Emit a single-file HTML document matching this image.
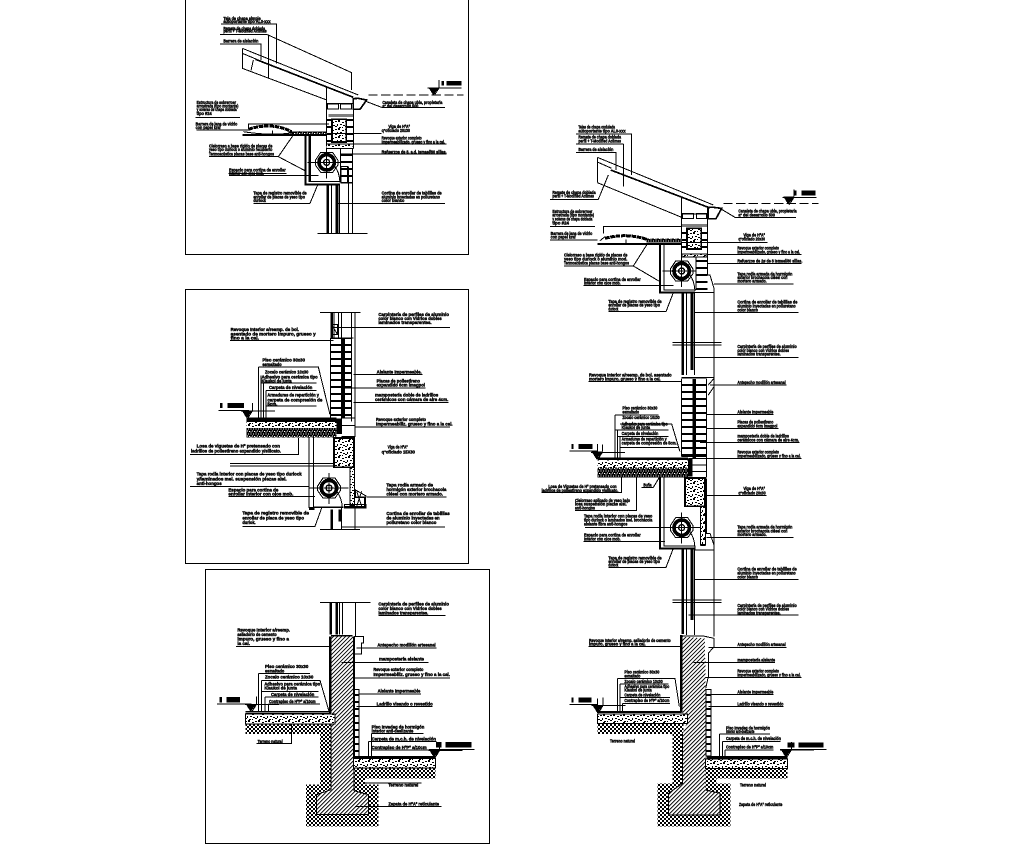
<!DOCTYPE html>
<html><head><meta charset="utf-8"><title>Detalles constructivos</title>
<style>
html,body{margin:0;padding:0;background:#fff}
svg{display:block}
line,path,polyline,polygon,rect,circle{shape-rendering:crispEdges}
text{font-family:"Liberation Sans",sans-serif;font-weight:bold;font-size:14px;fill:#000;stroke:#000;stroke-width:1.3}
.l{stroke:#000;stroke-width:3;fill:none}
.h{stroke:#000;stroke-width:8;fill:none}
.m{stroke:#000;stroke-width:5;fill:none}
.k{fill:#000;stroke:none}
</style></head><body>
<svg xmlns="http://www.w3.org/2000/svg" width="1009" height="852" viewBox="0 0 1009 852">
<defs>
<pattern id="hatch" width="8.5" height="8.5" patternUnits="userSpaceOnUse" patternTransform="rotate(-45)"><rect width="8.5" height="8.5" fill="#fff"/><rect width="8.5" height="3" fill="#000"/></pattern>
<pattern id="earth" width="12" height="12" patternUnits="userSpaceOnUse"><rect width="12" height="12" fill="#fff"/><rect x="0" y="0" width="6" height="6" fill="#000"/><rect x="6" y="6" width="6" height="6" fill="#000"/></pattern>
<pattern id="conc" width="30" height="24" patternUnits="userSpaceOnUse"><rect width="30" height="24" fill="#fff"/><rect x="0" y="3" width="6" height="3" fill="#000"/><rect x="9" y="0" width="6" height="6" fill="#000"/><rect x="21" y="6" width="6" height="3" fill="#000"/><rect x="6" y="12" width="3" height="6" fill="#000"/><rect x="15" y="12" width="6" height="3" fill="#000"/><rect x="24" y="15" width="6" height="3" fill="#000"/><rect x="0" y="18" width="6" height="3" fill="#000"/><rect x="12" y="21" width="6" height="3" fill="#000"/><rect x="21" y="21" width="3" height="3" fill="#000"/></pattern>
<pattern id="dense" width="15" height="15" patternUnits="userSpaceOnUse"><rect width="15" height="15" fill="#000"/><rect x="2" y="2" width="3" height="3" fill="#fff"/><rect x="9" y="1" width="3" height="3" fill="#fff"/><rect x="6" y="7" width="3" height="3" fill="#fff"/><rect x="12" y="9" width="3" height="3" fill="#fff"/><rect x="1" y="11" width="3" height="3" fill="#fff"/></pattern>
<pattern id="brick" width="12" height="21" patternUnits="userSpaceOnUse"><rect width="12" height="21" fill="#fff"/><rect width="12" height="6" fill="#000"/></pattern>
<g id="roller">
<polygon class="l" points="-34,-6 -18,-30 18,-30 34,-6 34,8 18,30 -18,30 -34,8"/>
<circle r="23" fill="none" stroke="#000" stroke-width="11"/>
<circle r="9" fill="none" stroke="#000" stroke-width="4"/>
<path class="l" d="M-58 0H58M0-45V48"/>
<path class="l" d="M24 12Q38 28 40 60"/>
</g>
<g id="level"><path class="k" d="M0 0H32L15 24Z"/><path class="l" d="M32 0V-22M-2 2H100M32 2L18 24"/></g>
</defs>
<rect width="1009" height="852" fill="#fff"/>

<!-- Frames -->
<g fill="none" stroke="#000" stroke-width="1" shape-rendering="crispEdges">
<path d="M185.5 0V254.5H468.5V0"/>
<rect x="185.5" y="289.5" width="283" height="274"/>
<rect x="205.5" y="569.5" width="284" height="274"/>
</g>

<!-- PANEL 1 -->
<g transform="translate(185,0) scale(.33333)">
<path class="l" d="M172 145L520 285M172 145V205M172 160L215 178M172 205L425 300M250 103V232M105 103H245L500 218V270M108 72H275V190M105 132H228V180M205 180L198 212"/>
<path class="m" d="M212 178L505 292"/>
<path class="l" d="M425 262V440M505 295V445M425 310H505M430 345H505M430 350H505"/>
<rect x="428" y="312" width="33" height="15" class="l" fill="#fff"/><rect x="467" y="312" width="33" height="15" class="l"/>
<rect x="426" y="350" width="78" height="82" fill="url(#brick)"/>
<rect x="441" y="358" width="43" height="68" fill="url(#conc)" stroke="#000" stroke-width="5"/>
<path class="m" d="M505 296V328H525L545 300L520 295Z"/>
<path class="l" d="M505 432H425M425 445H505"/><rect x="428" y="434" width="74" height="9" fill="url(#conc)"/>
<rect x="310" y="394" width="115" height="12" fill="url(#dense)"/>
<path stroke="#000" stroke-width="9" stroke-dasharray="14 2" fill="none" d="M190 388Q260 365 320 395"/>
<path class="m" d="M172 405H425"/><path class="l" d="M175 395Q265 410 345 395M262 392V405"/>
<path style="stroke-width:6" class="h" d="M362 408V553H465M375 408V545"/>
<path class="l" d="M372 408V545H465"/>
<use href="#roller" x="425" y="487"/>
<rect x="467" y="445" width="36" height="105" fill="url(#brick)"/>
<path class="l" d="M467 445V545"/><rect x="468" y="500" width="20" height="48" class="l" fill="#fff"/>
<path class="h" d="M428 550V700M456 550V700"/><path class="l" d="M440 550V700M464 550V700M490 500V700M503 445V700M397 700H547"/>
<use href="#level" x="730" y="262"/><rect x="770" y="243" width="7" height="14" class="k"/><rect x="785" y="243" width="44" height="14" class="k"/>
<path class="l" d="M550 285H835" stroke-dasharray="28 10"/>
<path class="l" d="M545 305L590 322H780M432 372H190V385M425 400H590M505 432H785M465 462H785M460 610H780M32 352H165M35 390H190M72 470H280L325 405M280 470L360 512M132 527H400M130 520H305M375 610H205M375 610L400 550"/>
<text x="115" y="60" textLength="112" lengthAdjust="spacingAndGlyphs">Teja de chapa simple</text>
<text x="115" y="69" textLength="142" lengthAdjust="spacingAndGlyphs">autoportante tipo AL0-xxx</text>
<text x="115" y="90" textLength="125" lengthAdjust="spacingAndGlyphs">Remate de chapa doblada</text>
<text x="115" y="98" textLength="130" lengthAdjust="spacingAndGlyphs">perfil + T-Modified Aclimas</text>
<text x="115" y="128" textLength="105" lengthAdjust="spacingAndGlyphs">Barrera de aislación</text>
<text x="592" y="312" textLength="180" lengthAdjust="spacingAndGlyphs">Canaleta de chapa ubla, propietaria</text>
<text x="592" y="323" textLength="108" lengthAdjust="spacingAndGlyphs">a° del desarrollo 500</text>
<text x="35" y="312" textLength="118" lengthAdjust="spacingAndGlyphs">Estructura de sobrerroer</text>
<text x="35" y="322" textLength="125" lengthAdjust="spacingAndGlyphs">arrostrada (tipo montante)</text>
<text x="35" y="333" textLength="120" lengthAdjust="spacingAndGlyphs">y soleras de chapa doblada</text>
<text x="35" y="345" textLength="45" lengthAdjust="spacingAndGlyphs">tipo #24</text>
<text x="32" y="376" textLength="125" lengthAdjust="spacingAndGlyphs">Barrera de lana de vidrio</text>
<text x="32" y="387" textLength="75" lengthAdjust="spacingAndGlyphs">con papel kraf</text>
<text x="610" y="384" textLength="65" lengthAdjust="spacingAndGlyphs">Viga de HºAº</text>
<text x="590" y="396" textLength="85" lengthAdjust="spacingAndGlyphs">q°oficiado 20x30</text>
<text x="590" y="419" textLength="120" lengthAdjust="spacingAndGlyphs">Revoque exterior completo</text>
<text x="590" y="430" textLength="190" lengthAdjust="spacingAndGlyphs">Impermeabilizado, grueso y fino a la cal.</text>
<text x="590" y="460" textLength="195" lengthAdjust="spacingAndGlyphs">Refuerzos de 8, a.d. Ismael/80 sillas.</text>
<text x="72" y="442" textLength="190" lengthAdjust="spacingAndGlyphs">Cielorraso a base rígido de placas de</text>
<text x="72" y="453" textLength="190" lengthAdjust="spacingAndGlyphs">yeso tipo durlock o aluminio recubierto</text>
<text x="72" y="466" textLength="195" lengthAdjust="spacingAndGlyphs">Termoacústica placas base anti-hongos</text>
<text x="132" y="514" textLength="170" lengthAdjust="spacingAndGlyphs">Espacio para cortina de enrollar</text>
<text x="132" y="525" textLength="105" lengthAdjust="spacingAndGlyphs">Interior con ojos mob.</text>
<text x="205" y="584" textLength="160" lengthAdjust="spacingAndGlyphs">Tapa de registro removible de</text>
<text x="205" y="595" textLength="155" lengthAdjust="spacingAndGlyphs">enrollar de placas de yeso tipo</text>
<text x="205" y="606" textLength="38" lengthAdjust="spacingAndGlyphs">durlock</text>
<text x="590" y="584" textLength="180" lengthAdjust="spacingAndGlyphs">Cortina de enrollar de tablillas de</text>
<text x="590" y="595" textLength="175" lengthAdjust="spacingAndGlyphs">aluminio inyectadas en poliuretano</text>
<text x="590" y="606" textLength="68" lengthAdjust="spacingAndGlyphs">color blanco</text>
</g>

<!-- PANEL 2 -->
<g transform="translate(185,288) scale(.33333)">
<path class="l" d="M405 73H527"/>
<path class="h" d="M440 73V150"/><path class="l" d="M447 73V150M460 73V150M470 73V150M500 73V400M510 73V400"/>
<rect x="440" y="110" width="18" height="30" class="l"/><path class="l" d="M440 110L458 140"/>
<rect x="438" y="152" width="60" height="232" fill="url(#brick)"/>
<path class="l" d="M437 150H505M437 150V388"/>
<rect x="468" y="152" width="12" height="240" class="k"/>
<path class="l" d="M470 390H510V445H470M470 412H510"/>
<rect x="185" y="388" width="270" height="14" class="k"/>
<rect x="185" y="402" width="270" height="18" fill="url(#conc)"/>
<rect x="185" y="420" width="270" height="28" fill="url(#dense)"/>
<rect x="455" y="392" width="16" height="46" class="k"/>
<rect x="447" y="450" width="60" height="88" fill="url(#conc)" stroke="#000" stroke-width="5"/>
<path class="l" d="M372 448V660M385 448V660M135 527H445M135 534H445"/>
<rect x="495" y="538" width="14" height="115" fill="url(#conc)" stroke="#000" stroke-width="3"/>
<use href="#roller" x="432" y="600"/>
<path style="stroke-width:9" class="h" d="M372 662H388"/><path class="m" d="M385 658H475"/>
<path class="h" d="M440 665V725M464 665V700"/><path class="l" d="M470 660V725M510 660V725M405 725H525"/>
<path class="m" d="M480 657H540V628H510V605"/><path class="l" d="M510 605L545 625M515 610L530 655M530 610L515 655"/>
<rect x="478" y="650" width="65" height="10" class="l"/>
<use href="#level" x="170" y="367"/><rect x="105" y="345" width="8" height="15" class="k"/><rect x="127" y="345" width="50" height="15" class="k"/>
<path class="l" d="M100 367H190V385M135 158H445M447 118H795M505 260H712M480 300H722M505 343H790M510 417H795M220 237H400L435 380M220 237V390M228 285H395M243 308H395M243 308V390M245 354H395M228 262V390M235 285V390M340 450V500H15M15 595H372M130 625H390M172 715H390L410 660M545 627H785M470 717H780"/>
<text x="580" y="84" textLength="212" lengthAdjust="spacingAndGlyphs">Carpintería de perfiles de aluminio</text>
<text x="580" y="96" textLength="190" lengthAdjust="spacingAndGlyphs">color blanco con Vidrios dobles</text>
<text x="580" y="108" textLength="160" lengthAdjust="spacingAndGlyphs">laminados transparentes.</text>
<text x="137" y="129" textLength="205" lengthAdjust="spacingAndGlyphs">Revoque Interior a/reemp. de bol.</text>
<text x="137" y="142" textLength="255" lengthAdjust="spacingAndGlyphs">asentado de mortero impuro, grueso y</text>
<text x="137" y="155" textLength="85" lengthAdjust="spacingAndGlyphs">fino a la cal.</text>
<text x="232" y="220" textLength="128" lengthAdjust="spacingAndGlyphs">Piso cerámico 30x30</text>
<text x="232" y="234" textLength="58" lengthAdjust="spacingAndGlyphs">esmaltado</text>
<text x="240" y="257" textLength="130" lengthAdjust="spacingAndGlyphs">Zocalo cerámico 10x30</text>
<text x="230" y="272" textLength="168" lengthAdjust="spacingAndGlyphs">Adhesivo para cerámica tipo</text>
<text x="230" y="284" textLength="90" lengthAdjust="spacingAndGlyphs">Klaukol de junta</text>
<text x="252" y="303" textLength="130" lengthAdjust="spacingAndGlyphs">Carpeta de nivelación</text>
<text x="247" y="326" textLength="155" lengthAdjust="spacingAndGlyphs">Armaduras de repartición y</text>
<text x="247" y="340" textLength="165" lengthAdjust="spacingAndGlyphs">carpeta de compresión de</text>
<text x="247" y="352" textLength="30" lengthAdjust="spacingAndGlyphs">5cm.</text>
<text x="575" y="256" textLength="135" lengthAdjust="spacingAndGlyphs">Aislante Impermeable.</text>
<text x="575" y="283" textLength="130" lengthAdjust="spacingAndGlyphs">Placas de poliestireno</text>
<text x="575" y="296" textLength="145" lengthAdjust="spacingAndGlyphs">expandido 6cm imagpol</text>
<text x="570" y="325" textLength="190" lengthAdjust="spacingAndGlyphs">mampostería doble de ladrillos</text>
<text x="570" y="339" textLength="220" lengthAdjust="spacingAndGlyphs">cerámicos con cámara de aire 4cm.</text>
<text x="573" y="399" textLength="150" lengthAdjust="spacingAndGlyphs">Revoque exterior completo</text>
<text x="573" y="413" textLength="230" lengthAdjust="spacingAndGlyphs">Impermeabiliz. grueso y fino a la cal.</text>
<text x="608" y="482" textLength="60" lengthAdjust="spacingAndGlyphs">Viga de HºAº</text>
<text x="590" y="497" textLength="100" lengthAdjust="spacingAndGlyphs">q°oficiado 15X30</text>
<text x="35" y="479" textLength="250" lengthAdjust="spacingAndGlyphs">Losa de viguetas de Hº pretensado con</text>
<text x="18" y="494" textLength="270" lengthAdjust="spacingAndGlyphs">ladrillos de poliestireno expandido y/silicato.</text>
<text x="35" y="563" textLength="315" lengthAdjust="spacingAndGlyphs">Tapa rodía interior con placas de yeso tipo durlock</text>
<text x="35" y="577" textLength="270" lengthAdjust="spacingAndGlyphs">y/laminados mel. suspensión piezas aisl.</text>
<text x="35" y="591" textLength="75" lengthAdjust="spacingAndGlyphs">anti-hongos</text>
<text x="130" y="611" textLength="150" lengthAdjust="spacingAndGlyphs">Espacio para cortina de</text>
<text x="130" y="623" textLength="195" lengthAdjust="spacingAndGlyphs">enrollar interior con ojos mob.</text>
<text x="172" y="680" textLength="200" lengthAdjust="spacingAndGlyphs">Tapa de registro removible de</text>
<text x="172" y="695" textLength="185" lengthAdjust="spacingAndGlyphs">enrollar de placa de yeso tipo</text>
<text x="172" y="708" textLength="40" lengthAdjust="spacingAndGlyphs">durlok.</text>
<text x="604" y="595" textLength="140" lengthAdjust="spacingAndGlyphs">Tapa rodía armado de</text>
<text x="604" y="609" textLength="180" lengthAdjust="spacingAndGlyphs">hormigón exterior brochacola</text>
<text x="604" y="622" textLength="170" lengthAdjust="spacingAndGlyphs">ciésel con mortero armado.</text>
<text x="604" y="681" textLength="190" lengthAdjust="spacingAndGlyphs">Cortina de enrollar de tablillas</text>
<text x="604" y="695" textLength="160" lengthAdjust="spacingAndGlyphs">de aluminio inyectadas en</text>
<text x="604" y="708" textLength="150" lengthAdjust="spacingAndGlyphs">poliuretano color blanco</text>
</g>

<!-- PANEL 3 -->
<g transform="translate(205,568) scale(.33333)">
<rect x="303" y="650" width="217" height="125" fill="url(#earth)"/>
<rect x="345" y="490" width="36" height="170" fill="url(#earth)"/>
<rect x="122" y="468" width="258" height="30" fill="url(#earth)"/>
<polygon points="447,600 692,600 692,632 480,632 480,660 447,670" fill="url(#earth)"/>
<polygon points="380,205 445,205 447,670 490,680 490,740 335,740 335,680 378,660 378,470 390,465 378,435" fill="url(#hatch)"/>
<path class="l" d="M378 470V665L335 680V740H490V680L447 668V570"/>
<rect x="122" y="438" width="268" height="30" fill="url(#conc)" stroke="#000" stroke-width="3"/>
<rect x="445" y="572" width="247" height="28" fill="url(#conc)" stroke="#000" stroke-width="3"/>
<path class="l" d="M345 103H497M452 103V205M403 103V200M412 103V200"/>
<path class="h" d="M377 103V200M395 103V200M376 205V435"/>
<path class="m" d="M378 203H443M122 431H378"/><path class="l" d="M122 437H378"/>
<path class="m" d="M447 205V570"/><path class="h" d="M450 568H692"/>
<path class="l" d="M447 205H475V225H470V258H447"/>
<rect x="448" y="365" width="14" height="200" fill="url(#brick)" stroke="#000" stroke-width="3"/>
<use href="#level" x="122" y="408"/><rect x="44" y="387" width="7" height="16" class="k"/><rect x="65" y="387" width="40" height="16" class="k"/>
<use href="#level" x="672" y="545"/><rect x="693" y="522" width="17" height="17" class="k"/><rect x="722" y="522" width="78" height="17" class="k"/>
<path class="l" d="M672 545H808M36 408H140M520 143H722M452 122V143M93 236H372M455 240H695M410 283H670M450 330H735M460 378H648M455 415H683M160 316V432M160 316H315M170 337H345L372 430M170 370H340M170 337V432M180 387H340M180 387V432M190 408H345M190 408V432M260 470V527H155M480 645H650M450 716H710M500 496V570M500 496H655M490 520H695M490 520V570M500 546H672M500 546V572"/>
<text x="520" y="113" textLength="212" lengthAdjust="spacingAndGlyphs">Carpintería de perfiles de aluminio</text>
<text x="520" y="126" textLength="190" lengthAdjust="spacingAndGlyphs">color blanco con Vidrios dobles</text>
<text x="520" y="140" textLength="150" lengthAdjust="spacingAndGlyphs">laminados transparentes.</text>
<text x="97" y="191" textLength="158" lengthAdjust="spacingAndGlyphs">Revoque Interior a/reemp.</text>
<text x="97" y="204" textLength="118" lengthAdjust="spacingAndGlyphs">asiladorio de cemento</text>
<text x="97" y="218" textLength="155" lengthAdjust="spacingAndGlyphs">impuro, grueso y fino a</text>
<text x="97" y="231" textLength="38" lengthAdjust="spacingAndGlyphs">la cal.</text>
<text x="517" y="236" textLength="175" lengthAdjust="spacingAndGlyphs">Antepecho modillón artesanal</text>
<text x="522" y="278" textLength="135" lengthAdjust="spacingAndGlyphs">mampostería aislante</text>
<text x="505" y="309" textLength="150" lengthAdjust="spacingAndGlyphs">Revoque exterior completo</text>
<text x="505" y="324" textLength="230" lengthAdjust="spacingAndGlyphs">Impermeabiliz. grueso y fino a la cal.</text>
<text x="518" y="374" textLength="128" lengthAdjust="spacingAndGlyphs">Aislante Impermeable</text>
<text x="515" y="412" textLength="168" lengthAdjust="spacingAndGlyphs">Ladrillo visando o revestido</text>
<text x="180" y="300" textLength="130" lengthAdjust="spacingAndGlyphs">Piso cerámico 30x30</text>
<text x="180" y="314" textLength="58" lengthAdjust="spacingAndGlyphs">esmaltado</text>
<text x="180" y="332" textLength="145" lengthAdjust="spacingAndGlyphs">Zocalo cerámico 10x30</text>
<text x="178" y="352" textLength="168" lengthAdjust="spacingAndGlyphs">Adhesivo para cerámica tipo</text>
<text x="178" y="365" textLength="98" lengthAdjust="spacingAndGlyphs">Klaukol de junta</text>
<text x="198" y="384" textLength="130" lengthAdjust="spacingAndGlyphs">Carpeta de nivelación</text>
<text x="192" y="405" textLength="140" lengthAdjust="spacingAndGlyphs">Contrapiso de HºPº a/10cm</text>
<text x="158" y="525" textLength="75" lengthAdjust="spacingAndGlyphs">Terreno natural</text>
<text x="500" y="481" textLength="158" lengthAdjust="spacingAndGlyphs">Piso Invadeg de hormigón</text>
<text x="500" y="493" textLength="125" lengthAdjust="spacingAndGlyphs">interior anti-deslizante</text>
<text x="500" y="518" textLength="193" lengthAdjust="spacingAndGlyphs">Carpeta de m.c.h. de nivelación</text>
<text x="500" y="543" textLength="165" lengthAdjust="spacingAndGlyphs">Contrapiso de HºPº a/10cm</text>
<text x="550" y="655" textLength="90" lengthAdjust="spacingAndGlyphs">Terreno natural</text>
<text x="550" y="713" textLength="152" lengthAdjust="spacingAndGlyphs">Zapata de HºAº reticulante</text>
</g>

<!-- RIGHT TOP -->
<g transform="translate(540,120) scale(.33333)">
<path class="l" d="M172 112L520 255M172 112V188M172 126L215 145M172 188L425 292M250 72V200M108 42H275V165M108 72H250M108 98H228V150M175 238H30M175 238L205 165"/>
<path class="m" d="M212 150L510 264"/>
<path class="l" d="M425 232V410M503 262V440M425 282H503M425 315H503"/>
<rect x="428" y="280" width="32" height="15" class="l"/><rect x="470" y="280" width="30" height="15" class="l"/>
<rect x="426" y="320" width="75" height="75" fill="url(#brick)"/>
<rect x="441" y="325" width="43" height="62" fill="url(#conc)" stroke="#000" stroke-width="5"/>
<path class="m" d="M505 262V296H528L545 265L520 262Z"/>
<rect x="426" y="402" width="75" height="9" fill="url(#conc)" stroke="#000" stroke-width="3"/>
<rect x="320" y="355" width="105" height="12" fill="url(#dense)"/>
<path stroke="#000" stroke-width="9" stroke-dasharray="14 2" fill="none" d="M195 355Q260 338 320 358"/>
<path class="m" d="M172 372H425"/><path class="l" d="M258 358V372M195 350L180 362"/>
<path style="stroke-width:6" class="h" d="M360 375V517H465"/><path class="l" d="M372 375V510H465"/>
<use href="#roller" x="425" y="453"/>
<rect x="468" y="412" width="34" height="100" fill="url(#brick)"/>
<path class="l" d="M468 412V510M503 410V465H510L522 505V518H465M522 518V750"/>
<path class="h" d="M428 518V750M456 518V750"/><path class="l" d="M440 518V750M463 518V750M397 668H545M397 675H545"/>
<use href="#level" x="730" y="230"/><rect x="763" y="212" width="6" height="14" class="k"/><rect x="785" y="212" width="42" height="14" class="k"/>
<path class="l" d="M550 250H835" stroke-dasharray="28 10"/>
<path class="l" d="M545 268L585 292H768M425 320H190V340M30 320H165M30 360H172M425 367H682M503 403H785M503 430H785M522 492H760M72 438H280L320 375M280 438L360 485M130 497H400M205 575H378L400 518M463 578H775M463 712H775"/>
<text x="115" y="25" textLength="110" lengthAdjust="spacingAndGlyphs">Tejas de chapa ondulada</text>
<text x="115" y="37" textLength="142" lengthAdjust="spacingAndGlyphs">autoportante tipo AL0-xxx</text>
<text x="115" y="55" textLength="128" lengthAdjust="spacingAndGlyphs">Remate de chapa doblada</text>
<text x="115" y="67" textLength="128" lengthAdjust="spacingAndGlyphs">perfil + T-Modified Aclimas</text>
<text x="115" y="93" textLength="105" lengthAdjust="spacingAndGlyphs">Barrera de aislación</text>
<text x="37" y="222" textLength="130" lengthAdjust="spacingAndGlyphs">Remate de chapa doblada</text>
<text x="37" y="233" textLength="125" lengthAdjust="spacingAndGlyphs">perfil + T-Modified Aclimas</text>
<text x="37" y="279" textLength="120" lengthAdjust="spacingAndGlyphs">Estructura de sobrerroer</text>
<text x="37" y="290" textLength="125" lengthAdjust="spacingAndGlyphs">arrostrada (tipo montante)</text>
<text x="37" y="301" textLength="120" lengthAdjust="spacingAndGlyphs">y soleras de chapa doblada</text>
<text x="37" y="313" textLength="50" lengthAdjust="spacingAndGlyphs">tipo #24</text>
<text x="32" y="345" textLength="125" lengthAdjust="spacingAndGlyphs">Barrera de lana de vidrio</text>
<text x="32" y="356" textLength="75" lengthAdjust="spacingAndGlyphs">con papel kraf</text>
<text x="595" y="278" textLength="175" lengthAdjust="spacingAndGlyphs">Canaleta de chapa ubla, propietaria</text>
<text x="595" y="289" textLength="110" lengthAdjust="spacingAndGlyphs">a° del desarrollo 500</text>
<text x="610" y="350" textLength="65" lengthAdjust="spacingAndGlyphs">Viga de HºAº</text>
<text x="595" y="362" textLength="80" lengthAdjust="spacingAndGlyphs">q°oficiado 20x30</text>
<text x="592" y="388" textLength="125" lengthAdjust="spacingAndGlyphs">Revoque exterior completo</text>
<text x="592" y="400" textLength="188" lengthAdjust="spacingAndGlyphs">Impermeabilizado, grueso y fino a la cal.</text>
<text x="592" y="428" textLength="195" lengthAdjust="spacingAndGlyphs">Refuerzos de 2ø de 8 Ismael/80 sillas.</text>
<text x="72" y="410" textLength="190" lengthAdjust="spacingAndGlyphs">Cielorraso a base rígido de placas de</text>
<text x="72" y="422" textLength="190" lengthAdjust="spacingAndGlyphs">yeso tipo durlock o aluminio mod.</text>
<text x="72" y="434" textLength="195" lengthAdjust="spacingAndGlyphs">Termoacústica placas base anti-hongos</text>
<text x="132" y="483" textLength="170" lengthAdjust="spacingAndGlyphs">Espacio para cortina de enrollar</text>
<text x="132" y="494" textLength="110" lengthAdjust="spacingAndGlyphs">Interior con ojos mob.</text>
<text x="205" y="549" textLength="160" lengthAdjust="spacingAndGlyphs">Tapa de registro removible de</text>
<text x="205" y="560" textLength="155" lengthAdjust="spacingAndGlyphs">enrollar de placas de yeso tipo</text>
<text x="205" y="571" textLength="30" lengthAdjust="spacingAndGlyphs">durlock</text>
<text x="592" y="466" textLength="165" lengthAdjust="spacingAndGlyphs">Tapa rodía armada de hormigón</text>
<text x="592" y="477" textLength="150" lengthAdjust="spacingAndGlyphs">exterior brochacola ciésel con</text>
<text x="592" y="488" textLength="88" lengthAdjust="spacingAndGlyphs">mortero armado.</text>
<text x="592" y="551" textLength="180" lengthAdjust="spacingAndGlyphs">Cortina de enrollar de tablillas de</text>
<text x="592" y="562" textLength="175" lengthAdjust="spacingAndGlyphs">aluminio inyectadas en poliuretano</text>
<text x="592" y="574" textLength="62" lengthAdjust="spacingAndGlyphs">color blanco</text>
<text x="592" y="684" textLength="178" lengthAdjust="spacingAndGlyphs">Carpintería de perfiles de aluminio</text>
<text x="592" y="696" textLength="155" lengthAdjust="spacingAndGlyphs">color blanco con Vidrios dobles</text>
<text x="592" y="707" textLength="130" lengthAdjust="spacingAndGlyphs">laminados transparentes.</text>
</g>

<!-- RIGHT MIDDLE -->
<g transform="translate(540,370) scale(.33333)">
<path class="h" d="M428 0V15"/><path class="l" d="M440 0V15M463 0V15M522 0V750M425 22H500M500 22H522"/>
<rect x="425" y="25" width="75" height="238" fill="url(#brick)"/>
<path class="l" d="M425 25V260M500 25V322M425 260H500"/>
<rect x="458" y="25" width="10" height="240" class="k"/>
<path class="l" d="M505 45L522 25V50L505 75M500 262V322M445 265H500M445 285H500M445 305H500"/>
<rect x="172" y="262" width="272" height="8" class="k"/>
<rect x="172" y="272" width="272" height="20" fill="url(#conc)"/>
<rect x="172" y="292" width="272" height="30" fill="url(#dense)"/>
<rect x="444" y="265" width="14" height="55" class="k"/>
<rect x="435" y="324" width="60" height="85" fill="url(#conc)" stroke="#000" stroke-width="5"/>
<path style="stroke-width:6" class="h" d="M360 322V535H465"/><path class="l" d="M372 322V528H465"/>
<use href="#roller" x="425" y="473"/>
<rect x="482" y="410" width="14" height="115" fill="url(#conc)" stroke="#000" stroke-width="3"/>
<path class="l" d="M500 325V490H510L522 525V540H465V530"/><path class="m" d="M482 525H496"/>
<path class="h" d="M428 537V750M456 537V750"/><path class="l" d="M440 537V750M463 537V750M397 690H545M397 698H545"/>
<use href="#level" x="155" y="245"/><rect x="94" y="222" width="7" height="15" class="k"/><rect x="115" y="222" width="42" height="15" class="k"/>
<path class="l" d="M88 243H172V222M145 34H425M510 45H740M500 133H700M500 175H715M480 218H778M500 265H785M225 135H355M225 135V262M240 162H395L420 245M225 180H385M232 180V262M232 200H385M240 200V262M240 232H415M305 352H340L358 322M245 322V368H5M290 322V422H105M135 472H375M130 515H375M500 377H680M500 502H760M205 592H378L400 535M463 628H775M463 735H775"/>
<text x="147" y="20" textLength="248" lengthAdjust="spacingAndGlyphs">Revoque Interior a/reemp. de bol. asentado</text>
<text x="147" y="31" textLength="215" lengthAdjust="spacingAndGlyphs">mortero impuro, grueso y fino a la cal.</text>
<text x="592" y="42" textLength="145" lengthAdjust="spacingAndGlyphs">Antepecho modillón artesanal</text>
<text x="592" y="131" textLength="108" lengthAdjust="spacingAndGlyphs">Aislante Impermeable</text>
<text x="592" y="160" textLength="108" lengthAdjust="spacingAndGlyphs">Placas de poliestireno</text>
<text x="592" y="172" textLength="120" lengthAdjust="spacingAndGlyphs">expandido 6cm imagpol</text>
<text x="592" y="203" textLength="155" lengthAdjust="spacingAndGlyphs">mampostería doble de ladrillos</text>
<text x="592" y="215" textLength="185" lengthAdjust="spacingAndGlyphs">cerámicos con cámara de aire 4cm.</text>
<text x="592" y="250" textLength="125" lengthAdjust="spacingAndGlyphs">Revoque exterior completo</text>
<text x="592" y="262" textLength="190" lengthAdjust="spacingAndGlyphs">Impermeabilizado, grueso y fino a la cal.</text>
<text x="247" y="119" textLength="105" lengthAdjust="spacingAndGlyphs">Piso cerámico 30x30</text>
<text x="247" y="131" textLength="50" lengthAdjust="spacingAndGlyphs">esmaltado</text>
<text x="247" y="147" textLength="112" lengthAdjust="spacingAndGlyphs">Zocalo cerámico 10x30</text>
<text x="245" y="166" textLength="138" lengthAdjust="spacingAndGlyphs">Adhesivo para cerámica tipo</text>
<text x="245" y="177" textLength="85" lengthAdjust="spacingAndGlyphs">Klaukol de junta</text>
<text x="245" y="195" textLength="110" lengthAdjust="spacingAndGlyphs">Carpeta de nivelación</text>
<text x="245" y="212" textLength="135" lengthAdjust="spacingAndGlyphs">Armaduras de repartición y</text>
<text x="245" y="224" textLength="165" lengthAdjust="spacingAndGlyphs">carpeta de compresión de 5cm.</text>
<text x="25" y="354" textLength="205" lengthAdjust="spacingAndGlyphs">Losa de Viguetas de Hº pretensado con</text>
<text x="5" y="366" textLength="230" lengthAdjust="spacingAndGlyphs">ladrillos de poliestireno expandido y/silicato.</text>
<text x="310" y="349" textLength="25" lengthAdjust="spacingAndGlyphs">Buña</text>
<text x="105" y="396" textLength="165" lengthAdjust="spacingAndGlyphs">Cielorraso aplicado de yeso bajo</text>
<text x="105" y="407" textLength="155" lengthAdjust="spacingAndGlyphs">losa suspensión piezas aisl.</text>
<text x="105" y="418" textLength="60" lengthAdjust="spacingAndGlyphs">anti-hongos</text>
<text x="132" y="442" textLength="205" lengthAdjust="spacingAndGlyphs">Tapa rodía interior con placas de yeso</text>
<text x="132" y="454" textLength="205" lengthAdjust="spacingAndGlyphs">tipo durlock o laminados mel. brochacola</text>
<text x="132" y="466" textLength="130" lengthAdjust="spacingAndGlyphs">aislante fibra anti-hongos</text>
<text x="132" y="500" textLength="170" lengthAdjust="spacingAndGlyphs">Espacio para cortina de enrollar</text>
<text x="132" y="511" textLength="110" lengthAdjust="spacingAndGlyphs">Interior con ojos mob.</text>
<text x="205" y="568" textLength="160" lengthAdjust="spacingAndGlyphs">Tapa de registro removible de</text>
<text x="205" y="579" textLength="155" lengthAdjust="spacingAndGlyphs">enrollar de placas de yeso tipo</text>
<text x="205" y="590" textLength="30" lengthAdjust="spacingAndGlyphs">durlock</text>
<text x="610" y="360" textLength="65" lengthAdjust="spacingAndGlyphs">Viga de HºAº</text>
<text x="595" y="373" textLength="82" lengthAdjust="spacingAndGlyphs">q°oficiado 20x30</text>
<text x="592" y="476" textLength="165" lengthAdjust="spacingAndGlyphs">Tapa rodía armada de hormigón</text>
<text x="592" y="487" textLength="150" lengthAdjust="spacingAndGlyphs">exterior brochacola ciésel con</text>
<text x="592" y="498" textLength="88" lengthAdjust="spacingAndGlyphs">mortero armado.</text>
<text x="592" y="602" textLength="178" lengthAdjust="spacingAndGlyphs">Cortina de enrollar de tablillas de</text>
<text x="592" y="613" textLength="175" lengthAdjust="spacingAndGlyphs">aluminio inyectadas en poliuretano</text>
<text x="592" y="625" textLength="62" lengthAdjust="spacingAndGlyphs">color blanco</text>
<text x="592" y="711" textLength="178" lengthAdjust="spacingAndGlyphs">Carpintería de perfiles de aluminio</text>
<text x="592" y="722" textLength="155" lengthAdjust="spacingAndGlyphs">color blanco con Vidrios dobles</text>
<text x="592" y="733" textLength="130" lengthAdjust="spacingAndGlyphs">laminados transparentes.</text>
</g>

<!-- RIGHT BOTTOM -->
<g transform="translate(540,610) scale(.33333)">
<rect x="352" y="520" width="220" height="130" fill="url(#earth)"/>
<rect x="397" y="370" width="33" height="175" fill="url(#earth)"/>
<rect x="172" y="340" width="258" height="32" fill="url(#earth)"/>
<polygon points="497,475 742,475 742,505 530,505 530,520 497,545" fill="url(#earth)"/>
<polygon points="428,80 495,85 497,235 497,540 540,550 540,615 385,615 385,550 428,520 428,370 440,340 428,310" fill="url(#hatch)"/>
<path class="l" d="M428 370V520L385 550V615H540V550L497 540"/>
<rect x="172" y="312" width="270" height="28" fill="url(#conc)" stroke="#000" stroke-width="3"/>
<rect x="497" y="447" width="245" height="28" fill="url(#conc)" stroke="#000" stroke-width="3"/>
<path class="h" d="M428 0V72M424 75V308"/><path class="l" d="M440 0V75M463 0V75M522 0V80M428 78H490L522 85V110L505 130V200L497 235"/>
<path class="m" d="M172 306H425"/><path class="h" d="M500 442H742"/>
<rect x="498" y="238" width="15" height="200" fill="url(#brick)" stroke="#000" stroke-width="3"/>
<use href="#level" x="157" y="285"/><rect x="94" y="262" width="7" height="15" class="k"/><rect x="115" y="262" width="40" height="15" class="k"/>
<use href="#level" x="722" y="418"/><rect x="743" y="397" width="20" height="15" class="k"/><rect x="775" y="397" width="76" height="15" class="k"/>
<path class="l" d="M88 284H172V265M720 418H860M445 15H775M145 110H420M505 112H740M460 158H705M497 202H785M513 254H700M505 290H730M232 205H405L418 290M232 205V305M240 222H385M240 222V305M240 262H390M247 280H390M247 280V305M538 372V440M538 372H690M547 395H722M547 395V440M555 420H700M555 420V440"/>
<text x="147" y="96" textLength="245" lengthAdjust="spacingAndGlyphs">Revoque Interior a/reemp. asiladorio de cemento</text>
<text x="147" y="107" textLength="170" lengthAdjust="spacingAndGlyphs">impuro, grueso y fino a la cal.</text>
<text x="592" y="108" textLength="145" lengthAdjust="spacingAndGlyphs">Antepecho modillón artesanal</text>
<text x="592" y="155" textLength="113" lengthAdjust="spacingAndGlyphs">mampostería aislante</text>
<text x="592" y="188" textLength="125" lengthAdjust="spacingAndGlyphs">Revoque exterior completo</text>
<text x="592" y="199" textLength="190" lengthAdjust="spacingAndGlyphs">Impermeabilizado, grueso y fino a la cal.</text>
<text x="592" y="250" textLength="108" lengthAdjust="spacingAndGlyphs">Aislante Impermeable</text>
<text x="592" y="287" textLength="138" lengthAdjust="spacingAndGlyphs">Ladrillo visando o revestido</text>
<text x="253" y="191" textLength="105" lengthAdjust="spacingAndGlyphs">Piso cerámico 30x30</text>
<text x="253" y="203" textLength="48" lengthAdjust="spacingAndGlyphs">esmaltado</text>
<text x="253" y="219" textLength="115" lengthAdjust="spacingAndGlyphs">Zocalo cerámico 10x30</text>
<text x="253" y="234" textLength="135" lengthAdjust="spacingAndGlyphs">Adhesivo para cerámica tipo</text>
<text x="253" y="245" textLength="82" lengthAdjust="spacingAndGlyphs">Klaukol de junta</text>
<text x="253" y="260" textLength="108" lengthAdjust="spacingAndGlyphs">Carpeta de nivelación</text>
<text x="253" y="276" textLength="135" lengthAdjust="spacingAndGlyphs">Contrapiso de HºPº a/10cm</text>
<text x="210" y="398" textLength="75" lengthAdjust="spacingAndGlyphs">Terreno natural</text>
<text x="558" y="358" textLength="132" lengthAdjust="spacingAndGlyphs">Piso Invadeg de hormigón</text>
<text x="558" y="369" textLength="85" lengthAdjust="spacingAndGlyphs">interior anti-deslizante</text>
<text x="558" y="390" textLength="165" lengthAdjust="spacingAndGlyphs">Carpeta de m.c.h. de nivelación</text>
<text x="558" y="416" textLength="142" lengthAdjust="spacingAndGlyphs">Contrapiso de HºPº a/10cm</text>
<text x="600" y="530" textLength="78" lengthAdjust="spacingAndGlyphs">Terreno natural</text>
<text x="597" y="588" textLength="130" lengthAdjust="spacingAndGlyphs">Zapata de HºAº reticulante</text>
</g>
</svg>
</body></html>
